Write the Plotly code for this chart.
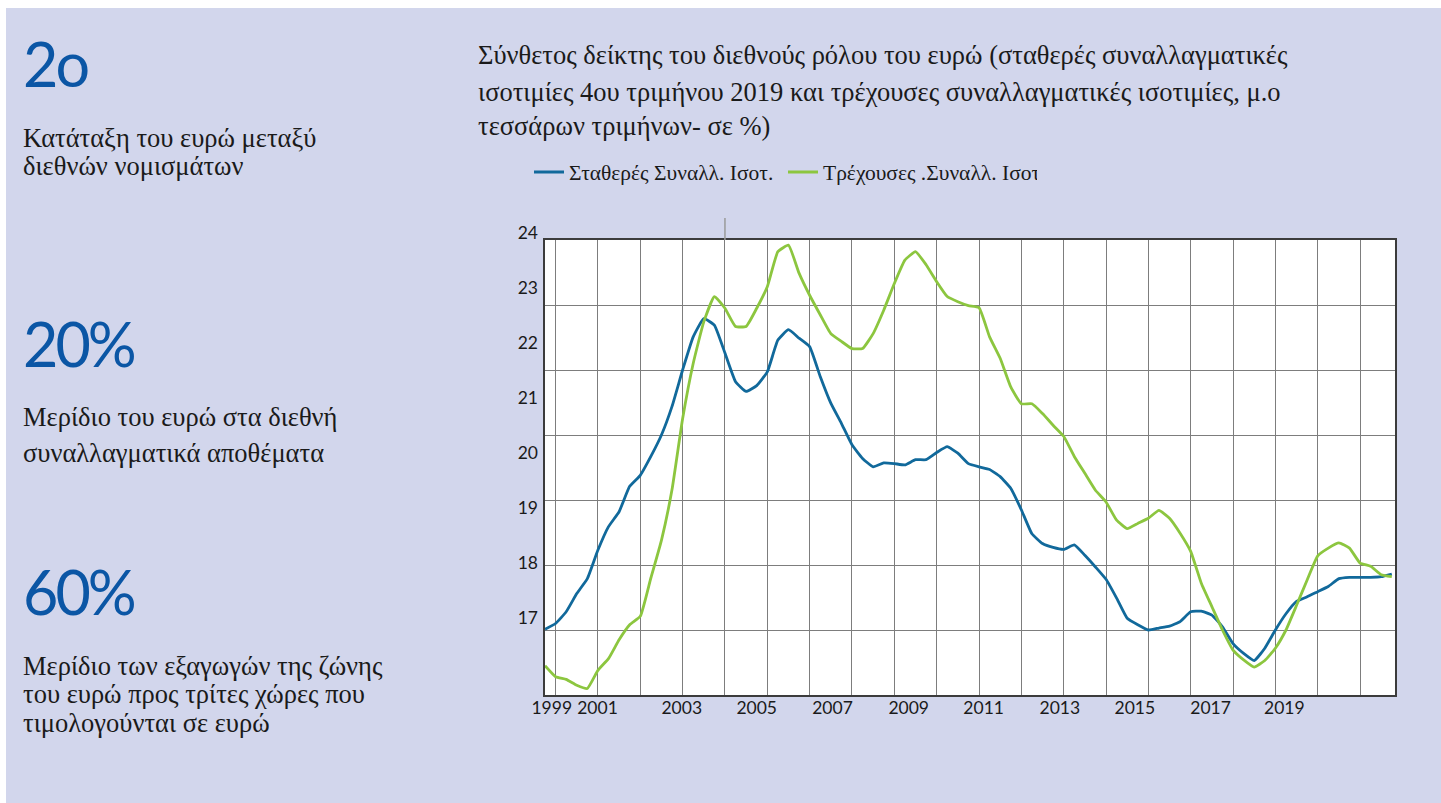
import pandas as pd
import plotly.graph_objects as go

# Quarterly composite index (four-quarter moving average), 1999Q4 - 2019Q4
QUARTERS = pd.period_range("1999Q4", "2019Q4", freq="Q")

CONSTANT_FX = [
    18.01, 18.10, 18.28, 18.56, 18.79, 19.23, 19.59, 19.82, 20.21, 20.38,
    20.67, 21.00, 21.44, 22.00, 22.51, 22.79, 22.69, 22.26, 21.82, 21.67,
    21.76, 21.97, 22.46, 22.62, 22.49, 22.36, 21.90, 21.49, 21.18, 20.85,
    20.64, 20.51, 20.57, 20.56, 20.54, 20.62, 20.62, 20.73, 20.82, 20.72,
    20.56, 20.51, 20.47, 20.36, 20.18, 19.85, 19.48, 19.33, 19.27, 19.24,
    19.31, 19.15, 18.97, 18.78, 18.49, 18.18, 18.08, 18.00, 18.03, 18.06,
    18.13, 18.28, 18.29, 18.23, 18.05, 17.79, 17.64, 17.53, 17.72, 18.00,
    18.25, 18.44, 18.51, 18.59, 18.67, 18.79, 18.81, 18.81, 18.81, 18.82,
    18.86,
]

CURRENT_FX = [
    17.45, 17.28, 17.24, 17.15, 17.10, 17.38, 17.56, 17.85, 18.08, 18.21,
    18.80, 19.38, 20.16, 21.25, 22.10, 22.74, 23.13, 22.95, 22.67, 22.67,
    22.95, 23.28, 23.82, 23.92, 23.49, 23.15, 22.85, 22.56, 22.44, 22.33,
    22.33, 22.56, 22.92, 23.33, 23.69, 23.82, 23.62, 23.36, 23.13, 23.05,
    22.99, 22.96, 22.51, 22.18, 21.74, 21.48, 21.48, 21.33, 21.15, 20.98,
    20.67, 20.41, 20.15, 19.97, 19.69, 19.56, 19.64, 19.72, 19.84, 19.72,
    19.49, 19.21, 18.72, 18.36, 18.00, 17.69, 17.54, 17.43, 17.53, 17.72,
    18.00, 18.38, 18.77, 19.14, 19.26, 19.34, 19.26, 19.03, 18.98, 18.85,
    18.82,
]

SERIES_NAMES = ["Σταθερές Συναλλ. Ισοτ.", "Τρέχουσες .Συναλλ. Ισοτ"]

YEAR_LABELS = ["1999", "2001", "2003", "2005", "2007", "2009",
               "2011", "2013", "2015", "2017", "2019"]
YEAR_LABEL_POS = [1999.91, 2000.99, 2002.98, 2004.75, 2006.54, 2008.34,
                  2010.11, 2011.91, 2013.68, 2015.47, 2017.21]

Y_LABELS = [17, 18, 19, 20, 21, 22, 23, 24]

TITLE_LINES = [
    "Σύνθετος δείκτης του διεθνούς ρόλου του ευρώ (σταθερές συναλλαγματικές",
    "ισοτιμίες 4ου τριμήνου 2019 και τρέχουσες συναλλαγματικές ισοτιμίες, μ.ο",
    "τεσσάρων τριμήνων- σε %)",
]

# figures and captions in the left-hand column
KEY_FIGURES = ["2o", "20%", "60%"]
CAPTIONS = [
    ["Κατάταξη του ευρώ μεταξύ", "διεθνών νομισμάτων"],
    ["Μερίδιο του ευρώ στα διεθνή", "συναλλαγματικά αποθέματα"],
    ["Μερίδιο των εξαγωγών της ζώνης", "του ευρώ προς τρίτες χώρες που",
     "τιμολογούνται σε ευρώ"],
]

W, H = 1441, 803
PANEL = "#D2D6EC"
BLUE_LINE = "#11699B"
GREEN_LINE = "#8CC63F"
BLUE_TEXT = "#0B56A5"
INK = "#1a1a1a"
GRID = "#7d7d7d"
FRAME = "#3c3c3c"
SERIF = "Liberation Serif, Times New Roman, serif"
SANS = "Lato, sans-serif"

x_vals = [p.year + (p.quarter - 1) / 4 for p in QUARTERS]
x_range = [1999.75, 2019.825]


def px_x(px):
    return px / W


def px_y(py):
    return 1 - py / H


fig = go.Figure()
for name, values, colour in [(SERIES_NAMES[0], CONSTANT_FX, BLUE_LINE),
                             (SERIES_NAMES[1], CURRENT_FX, GREEN_LINE)]:
    fig.add_trace(go.Scatter(
        x=x_vals, y=values, name=name, mode="lines",
        line=dict(color=colour, width=2.8, shape="spline", smoothing=0.4),
        hoverinfo="x+y",
    ))

# empty trace that attaches the labelled year / value axes
fig.add_trace(go.Scatter(x=[], y=[], xaxis="x2", yaxis="y2",
                         showlegend=False, hoverinfo="skip"))

annotations = []


def add_text(text, x_px, baseline_px, size, colour, family):
    annotations.append(dict(
        text=text, x=px_x(x_px), y=px_y(baseline_px - 0.35 * size),
        xref="paper", yref="paper", xanchor="left", yanchor="middle",
        showarrow=False, font=dict(size=size, color=colour, family=family),
    ))


# left column
fig_base = [85, 365, 613]
cap_base = [[147, 175], [426, 462], [675, 703, 732]]
for fig_txt, fb, caps, cbs in zip(KEY_FIGURES, fig_base, CAPTIONS, cap_base):
    add_text('<span style="letter-spacing:-3px">%s</span>' % fig_txt,
             21, fb, 61, BLUE_TEXT, SANS)
    for line, b in zip(caps, cbs):
        add_text(line, 21, b, 26.5, INK, SERIF)

# chart title
for line, b in zip(TITLE_LINES, [64, 101, 135]):
    add_text(line, 476, b, 26.5, INK, SERIF)

fig.update_layout(
    template="none",
    width=W, height=H, autosize=False,
    margin=dict(l=0, r=0, t=0, b=0, pad=0),
    paper_bgcolor=PANEL, plot_bgcolor="white",
    annotations=annotations,
    showlegend=True,
    legend=dict(
        orientation="h", x=px_x(529), y=px_y(172), xanchor="left",
        yanchor="middle", entrywidth=209, entrywidthmode="pixels",
        font=dict(family=SERIF, size=21.5, color=INK),
        bgcolor="rgba(0,0,0,0)", itemwidth=30,
    ),
    # yearly grid on the main axes
    xaxis=dict(
        domain=[px_x(545), px_x(1395)], range=x_range, anchor="y",
        tick0=2000, dtick=1, showgrid=True, gridcolor=GRID, gridwidth=1,
        showticklabels=False, zeroline=False, ticks="", automargin=False,
        showline=True, linecolor=FRAME, linewidth=1.5, mirror=True,
    ),
    yaxis=dict(
        domain=[1 - 695 / H, 1 - 240 / H], range=[17, 24], anchor="x",
        dtick=1, showgrid=True, gridcolor=GRID, gridwidth=1,
        showticklabels=False, ticks="", zeroline=False, automargin=False,
        showline=True, linecolor=FRAME, linewidth=1.5, mirror=True,
    ),
    # labelled axes
    xaxis2=dict(
        overlaying="x", range=x_range, anchor="y2", side="bottom",
        automargin=False, tickmode="array", tickvals=YEAR_LABEL_POS,
        ticktext=YEAR_LABELS, showgrid=False, zeroline=False, ticks="",
        showline=False, tickfont=dict(family=SANS, size=17.5, color=INK),
    ),
    yaxis2=dict(
        overlaying="y", side="left", anchor="x2", automargin=False,
        range=[24 - 455 / 55, 24], tickmode="array", tickvals=Y_LABELS,
        ticklabelshift=-7, ticklabelstandoff=6,
        showgrid=False, zeroline=False, ticks="", showline=False,
        tickfont=dict(family=SANS, size=17.5, color=INK),
    ),
    shapes=[
        # white page margins around the panel
        dict(type="rect", xref="paper", yref="paper", x0=0, x1=1,
             y0=px_y(8), y1=1, fillcolor="white", line_width=0, layer="below"),
        dict(type="rect", xref="paper", yref="paper", x0=0, x1=px_x(6),
             y0=0, y1=1, fillcolor="white", line_width=0, layer="below"),
        # tick stub above the frame
        dict(type="line", xref="x", yref="paper", x0=2004, x1=2004,
             y0=px_y(240), y1=px_y(218), line=dict(color="#9a9a9a", width=1.5)),
    ],
)

fig.write_html("out.html")
